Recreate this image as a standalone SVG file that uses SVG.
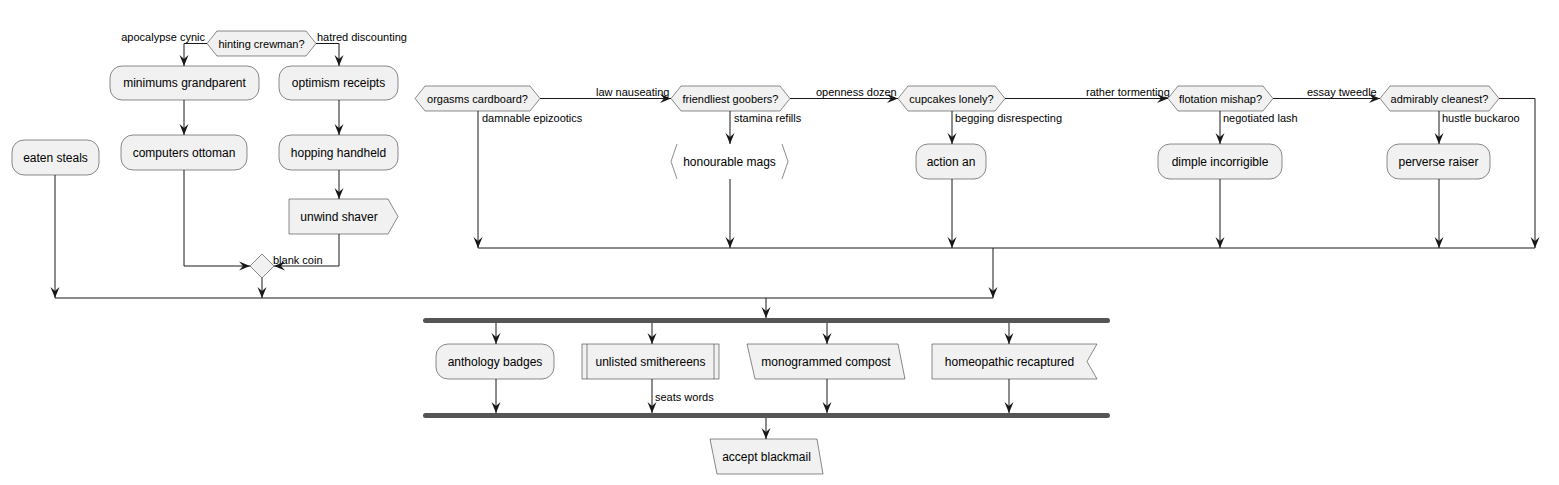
<svg xmlns="http://www.w3.org/2000/svg" width="1559" height="485" viewBox="0 0 1559 485">
<style>
.n{fill:#F1F1F1;stroke:#181818;stroke-width:0.5}
.o{fill:none;stroke:#181818;stroke-width:0.5}
.t{font-family:"Liberation Sans",Arial,sans-serif;font-size:12px;fill:#000;text-anchor:middle}
.l{font-family:"Liberation Sans",Arial,sans-serif;font-size:11px;fill:#000}
.e{fill:none;stroke:#181818;stroke-width:1}
.a{marker-end:url(#arr)}
.bar{fill:#555555;stroke:none}
</style>
<defs>
<marker id="arr" markerUnits="userSpaceOnUse" markerWidth="11" markerHeight="10" refX="11" refY="5" orient="auto" viewBox="0 0 11 10">
<path d="M0,0.5 L11,5 L0,9.5 L4,5 Z" fill="#181818"/>
</marker>
</defs>
<rect width="1559" height="485" fill="#FFFFFF"/>
<g id="connectors">
<path class="e a" d="M207,43.5 H184 V66"/>
<path class="e a" d="M316,43.5 H339 V66"/>
<path class="e a" d="M184,100 V135"/>
<path class="e a" d="M339,100 V135"/>
<path class="e a" d="M339,170 V199"/>
<path class="e a" d="M184,170 V266 H250"/>
<path class="e a" d="M339,234 V266 H274"/>
<path class="e a" d="M262,278 V298"/>
<path class="e a" d="M55,175 V298"/>
<path class="e" d="M55,298 H993"/>
<path class="e a" d="M993,248 V298"/>
<path class="e a" d="M766,298 V318"/>
<path class="e a" d="M540,98.5 H671"/>
<path class="e a" d="M478,111 V248"/>
<path class="e a" d="M730,111 V144"/>
<path class="e a" d="M730,179 V248"/>
<path class="e a" d="M790,98.5 H898"/>
<path class="e a" d="M952,111 V144"/>
<path class="e a" d="M952,179 V248"/>
<path class="e a" d="M1005,98.5 H1168"/>
<path class="e a" d="M1220,111 V144"/>
<path class="e a" d="M1220,179 V248"/>
<path class="e a" d="M1273,98.5 H1380"/>
<path class="e a" d="M1439,111 V144"/>
<path class="e a" d="M1439,179 V248"/>
<path class="e a" d="M1499,98.5 H1535 V248"/>
<path class="e" d="M478,248 H1535"/>
<path class="e a" d="M496,323 V344"/>
<path class="e a" d="M652,323 V344"/>
<path class="e a" d="M827,323 V344"/>
<path class="e a" d="M1009,323 V344"/>
<path class="e a" d="M496,379 V413"/>
<path class="e a" d="M652,379 V413"/>
<path class="e a" d="M827,379 V413"/>
<path class="e a" d="M1009,379 V413"/>
<path class="e a" d="M766,418 V439"/>
<text class="l" x="205" y="41" text-anchor="end">apocalypse cynic</text>
<text class="l" x="317" y="41">hatred discounting</text>
<text class="l" x="273" y="264">blank coin</text>
<text class="l" x="596" y="96">law nauseating</text>
<text class="l" x="482" y="122">damnable epizootics</text>
<text class="l" x="734" y="122">stamina refills</text>
<text class="l" x="816" y="96">openness dozen</text>
<text class="l" x="955" y="122">begging disrespecting</text>
<text class="l" x="1086" y="96">rather tormenting</text>
<text class="l" x="1223" y="122">negotiated lash</text>
<text class="l" x="1307" y="96">essay tweedle</text>
<text class="l" x="1442" y="122">hustle buckaroo</text>
<text class="l" x="655" y="401">seats words</text>
</g>
<g id="hinting"><polygon class="n" points="207,43.5 217,31 306,31 316,43.5 306,56 217,56"/><text class="t" x="261.5" y="47.5" style="font-size:11px">hinting crewman?</text></g>
<g id="minimums"><rect class="n" x="110" y="66" width="149" height="34" rx="12"/><text class="t" x="184.5" y="87">minimums grandparent</text></g>
<g id="optimism"><rect class="n" x="279" y="66" width="119" height="34" rx="12"/><text class="t" x="338.5" y="87">optimism receipts</text></g>
<g id="computers"><rect class="n" x="121" y="135" width="126" height="35" rx="12"/><text class="t" x="184" y="156.5">computers ottoman</text></g>
<g id="hopping"><rect class="n" x="279" y="135" width="119" height="35" rx="12"/><text class="t" x="338.5" y="156.5">hopping handheld</text></g>
<g id="eaten"><rect class="n" x="12" y="140" width="87" height="35" rx="12"/><text class="t" x="55.5" y="161.5">eaten steals</text></g>
<g id="unwind"><polygon class="n" points="289,199 388,199 398,216.5 388,234 289,234"/><text class="t" x="339" y="220.5">unwind shaver</text></g>
<g id="merge"><polygon class="n" points="262,254 274,266 262,278 250,266"/></g>
<g id="orgasms"><polygon class="n" points="415,98.5 425,86 530,86 540,98.5 530,111 425,111"/><text class="t" x="477.5" y="102.5" style="font-size:11px">orgasms cardboard?</text></g>
<g id="friendliest"><polygon class="n" points="671,98.5 681,86 780,86 790,98.5 780,111 681,111"/><text class="t" x="730.5" y="102.5" style="font-size:11px">friendliest goobers?</text></g>
<g id="honourable"><polyline class="o" points="677,144 671,161.5 677,179"/><polyline class="o" points="782,144 788,161.5 782,179"/><text class="t" x="729.5" y="165.5">honourable mags</text></g>
<g id="cupcakes"><polygon class="n" points="898,98.5 908,86 995,86 1005,98.5 995,111 908,111"/><text class="t" x="951.5" y="102.5" style="font-size:11px">cupcakes lonely?</text></g>
<g id="action"><rect class="n" x="916" y="144" width="70" height="35" rx="12"/><text class="t" x="951" y="165.5">action an</text></g>
<g id="flotation"><polygon class="n" points="1168,98.5 1178,86 1263,86 1273,98.5 1263,111 1178,111"/><text class="t" x="1220.5" y="102.5" style="font-size:11px">flotation mishap?</text></g>
<g id="dimple"><rect class="n" x="1158" y="144" width="124" height="35" rx="12"/><text class="t" x="1220" y="165.5">dimple incorrigible</text></g>
<g id="admirably"><polygon class="n" points="1380,98.5 1390,86 1489,86 1499,98.5 1489,111 1390,111"/><text class="t" x="1439.5" y="102.5" style="font-size:11px">admirably cleanest?</text></g>
<g id="perverse"><rect class="n" x="1387" y="144" width="103" height="35" rx="12"/><text class="t" x="1438.5" y="165.5">perverse raiser</text></g>
<g id="fork"><rect class="bar" x="423" y="318" width="687" height="5" rx="2.5"/></g>
<g id="anthology"><rect class="n" x="436" y="344" width="118" height="35" rx="12"/><text class="t" x="495" y="365.5">anthology badges</text></g>
<g id="unlisted"><rect class="n" x="582" y="344" width="137" height="35"/><line class="o" x1="587" y1="344" x2="587" y2="379"/><line class="o" x1="714" y1="344" x2="714" y2="379"/><text class="t" x="650.5" y="365.5">unlisted smithereens</text></g>
<g id="monogrammed"><polygon class="n" points="747,344 898,344 905,379 755,379"/><text class="t" x="826" y="365.5">monogrammed compost</text></g>
<g id="homeopathic"><polygon class="n" points="932,344 1097,344 1087,361.5 1097,379 932,379"/><text class="t" x="1009.5" y="365.5">homeopathic recaptured</text></g>
<g id="join"><rect class="bar" x="423" y="413" width="687" height="5" rx="2.5"/></g>
<g id="accept"><polygon class="n" points="710,439 817,439 823,474 717,474"/><text class="t" x="766.5" y="460.5">accept blackmail</text></g>
</svg>
